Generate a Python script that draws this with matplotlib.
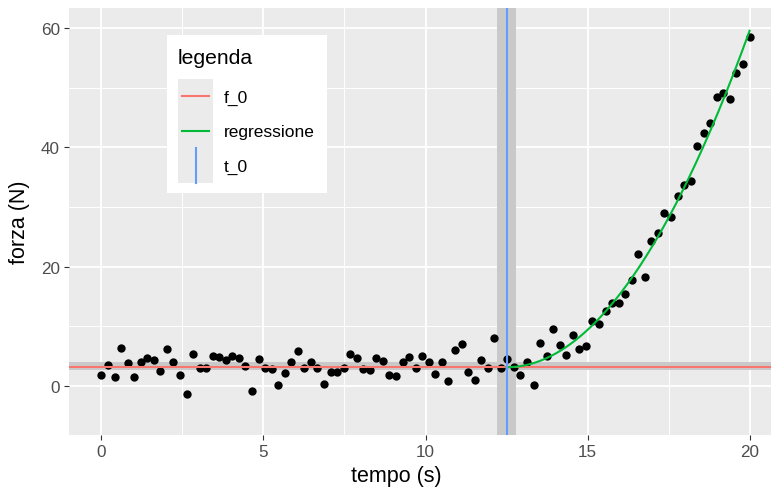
import numpy as np
import matplotlib
matplotlib.use("Agg")
import matplotlib.pyplot as plt
from matplotlib.patches import Rectangle
from matplotlib.lines import Line2D

plt.rcParams['font.family'] = ['Liberation Sans', 'DejaVu Sans']

# dati
tempo = np.linspace(0, 20, 100)
forza = [1.9, 3.5, 1.5, 6.4, 3.85, 1.56, 4.1, 4.7, 4.3, 2.6,
         6.25, 3.97, 1.9, -1.29, 5.4, 3.07, 3.1, 5.0, 4.8, 4.36,
         5.0, 4.7, 3.35, -0.8, 4.47, 3.07, 2.85, 0.22, 2.18, 4.08,
         5.9, 2.96, 4.02, 3.07, 0.39, 2.35, 2.35, 3.07, 5.4, 4.7,
         2.85, 2.68, 4.63, 4.25, 1.84, 1.73, 3.97, 4.8, 2.96, 4.97,
         4.02, 1.96, 3.97, 0.89, 6.03, 7.09, 2.35, 1.06, 4.36, 2.96,
         7.99, 2.96, 4.47, 3.24, 1.84, 4.02, 0.22, 7.15, 5.0, 9.6,
         6.87, 5.2, 8.6, 6.25, 6.7, 10.84, 10.39, 12.5, 13.96, 13.9,
         15.37, 17.8, 22.07, 18.3, 24.3, 25.7, 29.05, 28.3, 31.8, 33.7,
         34.3, 40.2, 42.45, 44.1, 48.4, 49.1, 48.1, 52.4, 53.96, 58.5]
forza = np.array(forza)

f_0 = 3.15
f_0_banda = (2.75, 3.95)
t_0 = 12.5
t_0_banda = (12.21, 12.79)

x_ticks = [0, 5, 10, 15, 20]
y_ticks = [0, 20, 40, 60]

# regressione quadratica a partire da t_0
mask = tempo >= t_0
dt = tempo[mask] - t_0
a = np.sum((forza[mask] - f_0) * dt**2) / np.sum(dt**4)
t_reg = np.linspace(t_0, 20, 200)
f_reg = f_0 + a * (t_reg - t_0)**2

ROSSO = '#F8766D'
VERDE = '#00BA38'
BLU = '#619CFF'
BANDA = '#C9C9C9'

W, H = 771, 489
fig = plt.figure(figsize=(W / 100, H / 100), dpi=100)

def fx(x):
    return x / W

def fy(y):
    return 1 - y / H

ax = fig.add_axes([fx(69), fy(436), fx(782) - fx(69), fy(9) - fy(436)])
ax.set_facecolor('#EBEBEB')
ax.set_xlim(-1, 21)
ax.set_ylim(-8.2, 63.35)

ax.set_xticks(x_ticks)
ax.set_yticks(y_ticks)
ax.set_xticks([2.5, 7.5, 12.5, 17.5], minor=True)
ax.set_yticks([10, 30, 50], minor=True)
ax.grid(True, which='major', color='white', linewidth=1.3)
ax.grid(True, which='minor', color='white', linewidth=0.7)
ax.set_axisbelow(True)
for s in ax.spines.values():
    s.set_visible(False)
ax.tick_params(which='major', length=3.6, width=0.8, color='#333333',
               labelsize=12.3, labelcolor='#4D4D4D', pad=3)
ax.tick_params(which='minor', length=0)

ax.axvspan(*t_0_banda, color=BANDA, linewidth=0, zorder=1)
ax.axhspan(*f_0_banda, color=BANDA, linewidth=0, zorder=1)

ax.scatter(tempo, forza, s=36, color='black', linewidths=0, zorder=3)
ax.axhline(f_0, color=ROSSO, linewidth=1.5, zorder=4)
ax.plot(t_reg, f_reg, color=VERDE, linewidth=1.5, zorder=4)
ax.axvline(t_0, color=BLU, linewidth=1.5, zorder=5)

fig.text(fx(396), fy(477), 'tempo (s)', ha='center', va='center', fontsize=15.5)
fig.text(fx(20), fy(222), 'forza (N)', ha='center', va='center', fontsize=15.5,
         rotation=90)

# legenda
tf = fig.transFigure
fig.patches.append(Rectangle((fx(167), fy(194)), fx(327) - fx(167), fy(36) - fy(194),
                             transform=tf, facecolor='white', edgecolor='none', zorder=10))
fig.text(fx(178), fy(58), 'legenda', ha='left', va='center', fontsize=15.2, zorder=11)
fig.patches.append(Rectangle((fx(178), fy(184)), fx(213) - fx(178), fy(80) - fy(184),
                             transform=tf, facecolor='#EBEBEB', edgecolor='none', zorder=11))
fig.lines.append(Line2D([fx(182), fx(209)], [fy(97), fy(97)], transform=tf,
                        color=ROSSO, linewidth=1.5, zorder=12))
fig.lines.append(Line2D([fx(182), fx(209)], [fy(132), fy(132)], transform=tf,
                        color=VERDE, linewidth=1.5, zorder=12))
fig.lines.append(Line2D([fx(195.5), fx(195.5)], [fy(149), fy(184)], transform=tf,
                        color=BLU, linewidth=1.5, zorder=12))
for lab, yy in [('f_0', 98), ('regressione', 132), ('t_0', 167)]:
    fig.text(fx(224), fy(yy), lab, ha='left', va='center', fontsize=12.5, zorder=12)

fig.savefig('out.png', dpi=100)
